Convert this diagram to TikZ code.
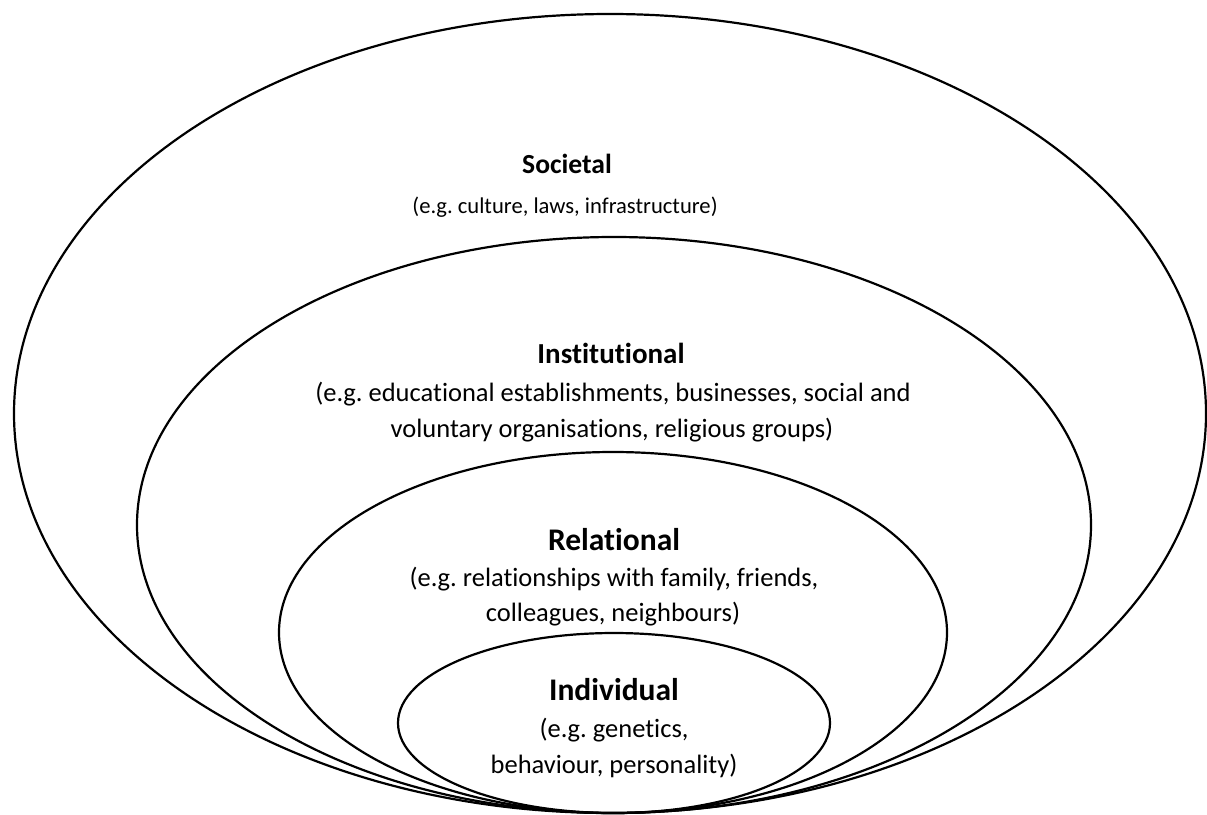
\documentclass[tikz,border=0pt]{standalone}
\usepackage{fontspec}
\setmainfont[Ligatures={NoCommon}]{Carlito}
\begin{document}
\frenchspacing
\begin{tikzpicture}[x=1pt,y=-1pt,
  ring/.style={draw=black,line width=2.2pt},
  head/.style={anchor=base,font=\fontsize{31.5}{36}\selectfont\bfseries,inner sep=0pt},
  desc/.style={anchor=base,font=\fontsize{26.5}{31}\selectfont,inner sep=0pt}]
\useasboundingbox (0,0) rectangle (1207,814);
\fill[white] (0,0) rectangle (1207,814);
\draw[ring] (610,413.5) ellipse [x radius=596pt, y radius=399.5pt];
\draw[ring] (614,525) ellipse [x radius=477pt, y radius=288pt];
\draw[ring] (613,632.5) ellipse [x radius=334pt, y radius=180.5pt];
\draw[ring] (614,723) ellipse [x radius=216pt, y radius=90pt];
\node[head,font=\fontsize{27.6}{32}\selectfont\bfseries] (soc) at (567,173) {Societal};
\node[desc,font=\fontsize{22.6}{27}\selectfont] (socd) at (565,213) {(e.g. culture, laws, infrastructure)};
\node[head,font=\fontsize{29}{34}\selectfont\bfseries] (ins) at (611,363) {Institutional};
\node[desc] (insd1) at (613,401) {(e.g. educational establishments, businesses, social and};
\node[desc] (insd2) at (612,437) {voluntary organisations, religious groups)};
\node[head] (rel) at (614,550) {Relational};
\node[desc] (reld1) at (614,586) {(e.g. relationships with family, friends,};
\node[desc] (reld2) at (613,621) {colleagues, neighbours)};
\node[head] (ind) at (614,700) {Individual};
\node[desc] (indd1) at (614,737) {(e.g. genetics,};
\node[desc] (indd2) at (614,773) {behaviour, personality)};
\end{tikzpicture}
\end{document}
